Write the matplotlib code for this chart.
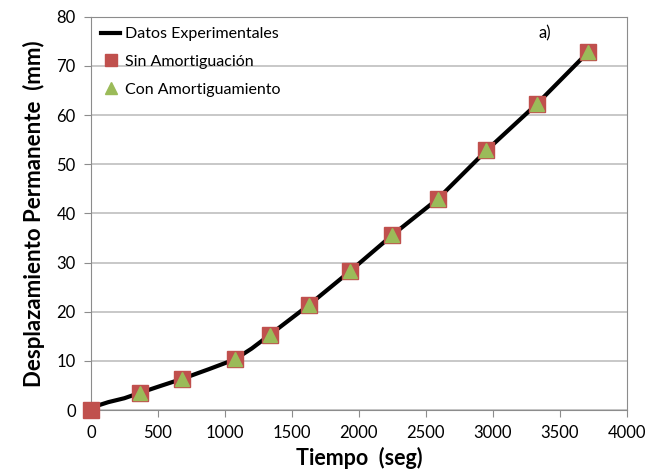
import matplotlib.pyplot as plt

plt.rcParams['font.family'] = ['Lato', 'DejaVu Sans']

# Experimental curve
t_exp = [0, 50, 130, 250, 366, 520, 677, 880, 1075, 1200, 1336, 1480, 1629,
         1933, 2251, 2592, 2953, 3331, 3714]
d_exp = [0, 0.9, 1.6, 2.4, 3.5, 4.9, 6.3, 8.3, 10.3, 12.5, 15.3, 18.3, 21.4,
         28.2, 35.6, 43.0, 52.8, 62.3, 72.85]

# Model without damping
t_sin = [0, 366, 677, 1075, 1336, 1629, 1933, 2251, 2592, 2953, 3331, 3714]
d_sin = [0, 3.5, 6.3, 10.3, 15.3, 21.4, 28.2, 35.6, 43.0, 52.8, 62.3, 72.85]

# Model with damping
t_con = [366, 677, 1075, 1336, 1629, 1933, 2251, 2592, 2953, 3331, 3714]
d_con = [3.5, 6.3, 10.3, 15.3, 21.4, 28.2, 35.6, 43.0, 52.8, 62.3, 72.85]

fig = plt.figure(figsize=(6.59, 4.71), dpi=100)
ax = fig.add_axes([0.138, 0.1295, 0.813, 0.835])

ax.plot(t_exp, d_exp, color='black', lw=3, label='Datos Experimentales',
        zorder=3, clip_on=False)
ax.plot(t_sin, d_sin, ls='none', marker='s', ms=11, color='#C0504D',
        label='Sin Amortiguación', zorder=4, clip_on=False)
ax.plot(t_con, d_con, ls='none', marker='^', ms=10, color='#9BBB59',
        label='Con Amortiguamiento', zorder=5, clip_on=False)

ax.set_xlim(0, 4000)
ax.set_ylim(0, 80)
ax.set_xticks(range(0, 4001, 500))
ax.set_yticks(range(0, 81, 10))
ax.grid(axis='y', color='#BFBFBF', lw=1.2)
ax.set_axisbelow(True)
for s in ax.spines.values():
    s.set_color('#8C8C8C')
ax.tick_params(colors='#8C8C8C', labelcolor='black', labelsize=12, length=5,
               pad=6)

ax.set_xlabel('Tiempo  (seg)', fontsize=15.5, fontweight='bold', labelpad=4)
ax.set_ylabel('Desplazamiento Permanente  (mm)', fontsize=16,
              fontweight='bold', labelpad=8)

ax.text(3340, 75.5, 'a)', fontsize=12)

leg = ax.legend(loc='upper left', frameon=False, fontsize=11.5, handlelength=1.2,
                handletextpad=0.3, borderaxespad=0.25, labelspacing=0.85)
for h in leg.legend_handles[1:]:
    h.set_markersize(8)

fig.savefig('out.png', dpi=100)
